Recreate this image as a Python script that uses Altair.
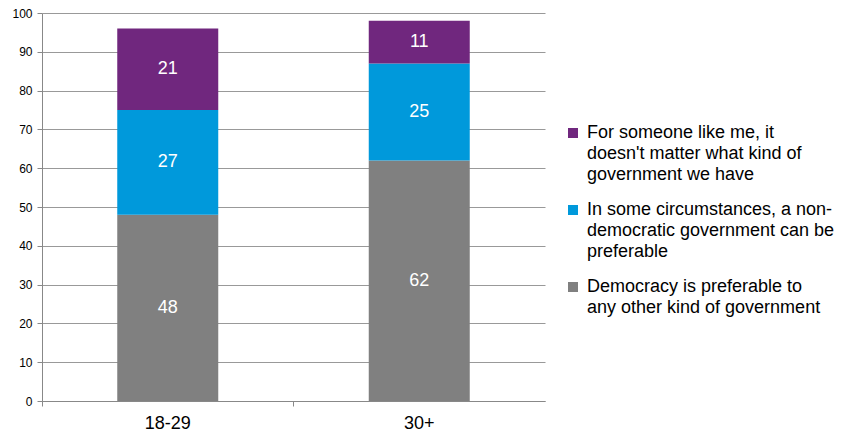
import altair as alt
import pandas as pd

ages = ["18-29", "18-29", "18-29", "30+", "30+", "30+"]
answers = [
    "Democracy is preferable to|any other kind of government",
    "In some circumstances, a non-|democratic government can be|preferable",
    "For someone like me, it|doesn't matter what kind of|government we have",
] * 2
values = [48, 27, 21, 62, 25, 11]
stack_rank = [0, 1, 2, 0, 1, 2]

legend_order = [
    "For someone like me, it|doesn't matter what kind of|government we have",
    "In some circumstances, a non-|democratic government can be|preferable",
    "Democracy is preferable to|any other kind of government",
]
y_ticks = list(range(0, 101, 10))
colors = ["#70277E", "#0099DB", "#808080"]

df = pd.DataFrame({"age": ages, "answer": answers, "value": values, "rank": stack_rank})

FONT = "Liberation Sans"

base = alt.Chart(df).transform_stack(
    stack="value", groupby=["age"], as_=["y0", "y1"], sort=[alt.SortField("rank")]
).transform_calculate(mid="(datum.y0 + datum.y1) / 2")

yscale = alt.Scale(domain=[0, 100], nice=False)
yaxis = alt.Axis(
    values=y_ticks, labelFont=FONT, labelFontSize=12,
    labelColor="#000", domainColor="#888", tickColor="#888", tickSize=5,
    gridColor="#999", gridWidth=1, labelPadding=5, labelOverlap=False,
)

x = alt.X(
    "age:N",
    title=None,
    scale=alt.Scale(paddingInner=0, paddingOuter=0),
    axis=alt.Axis(
        labelAngle=0, labelFont=FONT, labelFontSize=18, labelColor="#000",
        domainColor="#888", tickColor="#888", tickSize=5, bandPosition=0,
        labelPadding=8, grid=False,
    ),
)

bars = base.mark_bar(size=101).encode(
    x=x,
    y=alt.Y("y0:Q", title=None, scale=yscale, axis=yaxis),
    y2="y1:Q",
    color=alt.Color(
        "answer:N",
        scale=alt.Scale(domain=legend_order, range=colors),
        legend=alt.Legend(
            title=None, orient="none", legendX=522, legendY=111,
            symbolType="square", symbolSize=100, symbolStrokeWidth=0,
            labelFont=FONT, labelFontSize=18, labelColor="#000", labelLimit=0,
            labelExpr="split(datum.label, '|')", labelBaseline="middle", labelOffset=5,
            rowPadding=17,
        ),
    ),
    order=alt.Order("rank:Q"),
)

texts = base.mark_text(font=FONT, fontSize=18, color="white").encode(
    x=x,
    y=alt.Y("mid:Q", title=None, scale=yscale, axis=yaxis),
    text=alt.Text("value:Q"),
)

chart = alt.layer(bars, texts).properties(
    width=503, height=388,
    autosize=alt.AutoSizeParams(type="none"),
    padding={"left": 34, "top": 5, "right": 297, "bottom": 35},
).configure(
    view=alt.ViewConfig(stroke=None),
    style={"guide-label": {"lineHeight": 21}},
)

chart.save("out.html", embed_options={"renderer": "svg", "actions": False})
